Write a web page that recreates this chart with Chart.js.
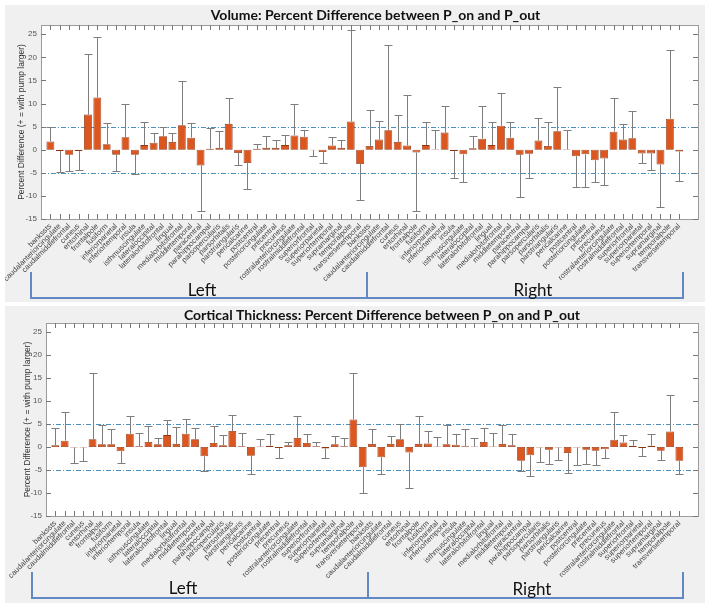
<!DOCTYPE html>
<html lang="en">
<head>
<meta charset="UTF-8" />
<title>Percent Difference between P_on and P_out</title>
<script src="https://cdn.jsdelivr.net/npm/chart.js"></script>
<style>
body {
  margin: 0;
  background: #fff;
  width: 708px;
  height: 607px;
  position: relative;
  overflow: hidden;
  font-family: 'Lato', sans-serif;
}
.panel {
  position: absolute;
  left: 5px;
  width: 700px;
  height: 297px;
  background: #f0f0f0;
}
#panel-vol { top: 5px; }
#panel-thk { top: 306px; }
.panel canvas { position: absolute; left: 0; top: 0; }
.br { position: absolute; background: #6289c3; }
.side {
  position: absolute;
  font-size: 17px;
  color: #111;
  transform: translate(-50%, -50%);
  white-space: nowrap;
}
</style>
</head>
<body>

<div class="panel" id="panel-vol"><canvas id="chart-vol" width="700" height="297"></canvas></div>
<div class="panel" id="panel-thk"><canvas id="chart-thk" width="700" height="297"></canvas></div>

<!-- hemisphere brackets, volume panel -->
<div class="br" style="left:30px;top:272px;width:2px;height:27px"></div>
<div class="br" style="left:30px;top:297px;width:654px;height:2px"></div>
<div class="br" style="left:366px;top:272px;width:2px;height:27px"></div>
<div class="br" style="left:682px;top:272px;width:2px;height:27px"></div>
<div class="side" style="left:202px;top:289px">Left</div>
<div class="side" style="left:533px;top:289px">Right</div>

<!-- hemisphere brackets, thickness panel -->
<div class="br" style="left:31px;top:572px;width:2px;height:27px"></div>
<div class="br" style="left:31px;top:597px;width:653px;height:2px"></div>
<div class="br" style="left:367px;top:572px;width:2px;height:27px"></div>
<div class="br" style="left:682px;top:572px;width:2px;height:27px"></div>
<div class="side" style="left:183px;top:587px">Left</div>
<div class="side" style="left:532px;top:588px">Right</div>

<script>
const regions = [
  'bankssts', 'caudalanteriorcingulate', 'caudalmiddlefrontal', 'cuneus', 'entorhinal',
  'frontalpole', 'fusiform', 'inferiorparietal', 'inferiortemporal', 'insula',
  'isthmuscingulate', 'lateraloccipital', 'lateralorbitofrontal', 'lingual', 'medialorbitofrontal',
  'middletemporal', 'paracentral', 'parahippocampal', 'parsopercularis', 'parsorbitalis',
  'parstriangularis', 'pericalcarine', 'postcentral', 'posteriorcingulate', 'precentral',
  'precuneus', 'rostralanteriorcingulate', 'rostralmiddlefrontal', 'superiorfrontal', 'superiorparietal',
  'superiortemporal', 'supramarginal', 'temporalpole', 'transversetemporal'
];

// volume % difference, left then right hemisphere
const volLeft = [1.8, -0.3, -1.1, -0.3, 7.6, 11.3, 1.2, -1.1, 2.7, -1.1, 1.0, 1.5, 2.9, 1.7, 5.3, 2.6, -3.4,
  0.2, 0.4, 5.6, -0.7, -2.9, 0.2, 0.4, 0.4, 1.0, 3.1, 2.8, -0.1, -0.5, 0.9, 0.4, 6.1, -3.1];
const volErrLeft = [3.2, 4.6, 3.6, 4.1, 13.1, 13.2, 4.5, 3.4, 7.3, 4.2, 5.0, 2.2, 2.1, 1.9, 9.5, 3.1, 9.9,
  4.6, 3.6, 5.5, 2.7, 5.7, 1.1, 2.5, 1.7, 2.2, 6.8, 1.4, 1.3, 2.3, 1.8, 1.6, 19.9, 7.7];
const volRight = [0.8, 2.2, 4.2, 1.7, 0.9, -0.6, 1.0, 0.1, 3.7, -0.3, -1.0, 0.3, 2.4, 1.0, 5.2, 2.6, -1.1,
  -0.9, 2.0, 0.8, 4.0, 0.1, -1.4, -1.0, -2.3, -1.9, 3.9, 2.2, 2.5, -0.8, -0.8, -3.2, 6.7, -0.4];
const volErrRight = [7.8, 4.1, 18.4, 5.9, 11.0, 12.7, 5.0, 4.1, 5.7, 5.8, 6.0, 2.7, 7.1, 5.0, 7.0, 3.4, 9.1,
  5.2, 4.8, 5.3, 9.5, 4.1, 6.7, 7.1, 4.6, 5.7, 7.4, 3.4, 5.8, 2.0, 3.5, 9.3, 14.9, 6.4];

// cortical thickness % difference
const thkLeft = [0.4, 1.4, -0.1, -0.1, 1.7, 0.6, 0.6, -0.9, 2.9, 0.2, 1.1, 0.6, 2.6, 0.7, 2.9, 1.7, -2.0,
  0.9, 0.4, 3.5, 0.2, -1.9, 0.1, 0.3, -0.2, 0.4, 2.0, 0.9, 0.2, -0.3, 0.6, 0.2, 6.0, -4.4];
const thkErrLeft = [3.7, 6.3, 3.3, 2.9, 14.4, 4.1, 3.3, 2.5, 3.9, 2.8, 3.5, 1.3, 3.2, 3.6, 3.2, 2.5, 3.2,
  3.6, 2.3, 3.4, 2.8, 3.9, 1.7, 2.5, 2.1, 0.8, 4.7, 2.0, 0.8, 2.0, 1.8, 1.8, 10.1, 5.5];
const thkRight = [0.7, -2.2, 0.7, 1.7, -1.2, 0.7, 0.8, 0.1, 0.6, 0.5, 0.2, 0.1, 1.1, 0.1, 0.7, 0.4, -3.0,
  -1.8, -0.1, -0.6, -0.1, -1.3, -0.1, -0.6, -0.8, -0.5, 1.6, 1.0, 0.3, -0.2, 0.3, -0.8, 3.4, -3.0];
const thkErrRight = [3.2, 3.6, 1.7, 3.3, 7.8, 6.1, 2.6, 2.2, 4.1, 2.3, 3.7, 1.8, 3.0, 3.0, 4.1, 2.5, 2.1,
  4.5, 3.2, 3.0, 2.7, 4.4, 3.7, 3.1, 3.1, 1.8, 6.0, 1.7, 1.2, 1.7, 2.5, 2.0, 8.0, 2.9];

const yTicks = [-15, -10, -5, 0, 5, 10, 15, 20, 25];
const refLines = [5, -5];

const labels = regions.concat(regions);
const xTicks = labels.map((_, i) => i + 1);

// matlab-ish look: white axes, box, inward ticks, dash-dot ref lines, one-sided error bars
const matlabAxes = {
  id: 'matlabAxes',
  beforeDraw(chart) {
    const {ctx, chartArea: a} = chart;
    ctx.save();
    ctx.fillStyle = '#fff';
    ctx.fillRect(a.left, a.top, a.right - a.left, a.bottom - a.top);
    ctx.restore();
  },
  beforeDatasetsDraw(chart) {
    const {ctx, chartArea: a, scales: {y}} = chart;
    ctx.save();
    ctx.strokeStyle = '#4a91c2';
    ctx.lineWidth = 1;
    ctx.setLineDash([5, 2, 1, 2]);
    refLines.forEach(v => {
      const py = Math.round(y.getPixelForValue(v)) + 0.5;
      ctx.beginPath();
      ctx.moveTo(a.left, py);
      ctx.lineTo(a.right, py);
      ctx.stroke();
    });
    ctx.restore();
  },
  afterDatasetsDraw(chart, args, opts) {
    const {ctx, scales: {x, y}} = chart;
    const vals = chart.data.datasets[0].data;
    ctx.save();
    ctx.strokeStyle = '#7d7d7d';
    ctx.lineWidth = 1;
    vals.forEach((pt, i) => {
      const dir = pt.y >= 0 ? 1 : -1;
      const tip = pt.y + dir * opts.errors[i];
      const px = Math.round(x.getPixelForValue(pt.x)) + 0.5;
      const y0 = y.getPixelForValue(pt.y);
      const y1 = Math.round(y.getPixelForValue(tip)) + 0.5;
      ctx.beginPath();
      ctx.moveTo(px, y0);
      ctx.lineTo(px, y1);
      ctx.moveTo(px - 4, y1);
      ctx.lineTo(px + 4, y1);
      ctx.stroke();
    });
    ctx.restore();
  },
  afterDraw(chart, args, opts) {
    const {ctx, chartArea: a, scales: {x, y}} = chart;
    ctx.save();
    ctx.strokeStyle = '#9c9c9c';
    ctx.lineWidth = 1;
    ctx.strokeRect(Math.round(a.left) + 0.5, Math.round(a.top) + 0.5,
      Math.round(a.right - a.left), Math.round(a.bottom - a.top));
    ctx.strokeStyle = '#777';
    ctx.beginPath();
    xTicks.forEach(v => {
      const px = Math.round(x.getPixelForValue(v)) + 0.5;
      ctx.moveTo(px, a.bottom); ctx.lineTo(px, a.bottom - 5);
      ctx.moveTo(px, a.top); ctx.lineTo(px, a.top + 5);
    });
    yTicks.forEach(v => {
      const py = Math.round(y.getPixelForValue(v)) + 0.5;
      ctx.moveTo(a.left, py); ctx.lineTo(a.left + 5, py);
      ctx.moveTo(a.right, py); ctx.lineTo(a.right - 5, py);
    });
    ctx.stroke();
    // title, centred a little right of the axes like the original
    ctx.fillStyle = '#111';
    ctx.font = 'bold 14px Lato';
    ctx.textAlign = 'center';
    ctx.textBaseline = 'middle';
    ctx.fillText(opts.title, (a.left + a.right) / 2 + opts.titleShift, opts.titleY);
    ctx.restore();
  }
};

function makeChart(id, title, values, errors, box) {
  return new Chart(document.getElementById(id), {
    type: 'bar',
    data: {
      datasets: [{
        data: values.map((v, i) => ({x: i + 1, y: v})),
        backgroundColor: '#dc5720',
        borderColor: '#8f3512',
        borderWidth: 0.8,
        borderSkipped: false,
        categoryPercentage: 1,
        barPercentage: 0.84
      }]
    },
    options: {
      responsive: false,
      animation: false,
      layout: {autoPadding: false, padding: {left: 0, right: 7, top: box.top, bottom: 0}},
      plugins: {
        legend: {display: false},
        tooltip: {enabled: false},
        title: {display: false},
        matlabAxes: {errors: errors, title: title, titleY: box.titleY, titleShift: box.titleShift}
      },
      scales: {
        x: {
          type: 'linear',
          min: 0,
          max: 70,
          offset: false,
          grid: {display: false, drawTicks: false, offset: false},
          border: {display: false},
          afterBuildTicks: s => { s.ticks = xTicks.map(v => ({value: v})); },
          afterFit: s => { s.height = box.xHeight; },
          ticks: {
            autoSkip: false,
            minRotation: 45,
            maxRotation: 45,
            padding: 3,
            color: '#444',
            font: {family: 'Liberation Sans', size: 7.5},
            callback: v => labels[v - 1] || ''
          }
        },
        y: {
          min: -15,
          max: 27,
          grid: {display: false, drawTicks: false},
          border: {display: false},
          afterBuildTicks: s => { s.ticks = yTicks.map(v => ({value: v})); },
          afterFit: s => { s.width = box.yWidth; },
          ticks: {
            padding: 4,
            color: '#555',
            font: {family: 'Liberation Sans', size: 8}
          },
          title: {
            display: true,
            text: 'Percent Difference (+ = with pump larger)',
            color: '#333',
            font: {family: 'Liberation Sans', size: 8.5},
            padding: {top: box.yTitlePad, bottom: 0}
          }
        }
      }
    },
    plugins: [matlabAxes]
  });
}

makeChart('chart-vol', 'Volume: Percent Difference between P_on and P_out',
  volLeft.concat(volRight), volErrLeft.concat(volErrRight),
  {top: 20, titleY: 10, titleShift: 6, xHeight: 83, yWidth: 36, yTitlePad: 12});

makeChart('chart-thk', 'Cortical Thickness: Percent Difference between P_on and P_out',
  thkLeft.concat(thkRight), thkErrLeft.concat(thkErrRight),
  {top: 17, titleY: 9, titleShift: 10, xHeight: 87, yWidth: 41, yTitlePad: 18});
</script>

</body>
</html>
